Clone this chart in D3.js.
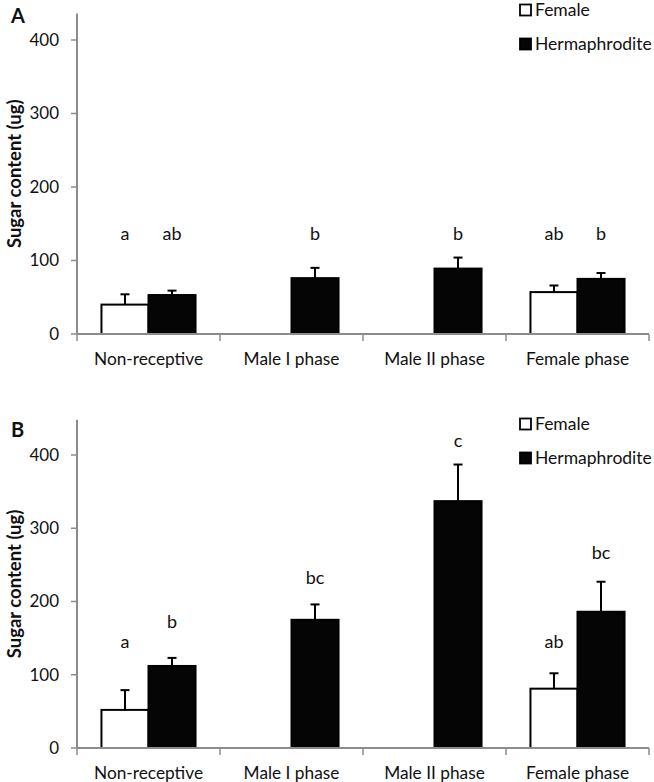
<!DOCTYPE html>
<html>
<head>
<meta charset="utf-8">
<script src="https://cdn.jsdelivr.net/npm/d3@7"></script>
<style>
html,body{margin:0;padding:0;background:#fff;}
svg{display:block;font-family:Lato,"Open Sans",sans-serif;}
</style>
</head>
<body>
<svg id="chart" width="654" height="782"></svg>
<script>
const categories = ["Non-receptive", "Male I phase", "Male II phase", "Female phase"];
const seriesNames = ["Female", "Hermaphrodite"];
const yTicks = [0, 100, 200, 300, 400];

// Panel A
const femaleA = [40, null, null, 57];
const femaleErrA = [14, null, null, 9];
const hermA = [53, 76, 89, 75];
const hermErrA = [6, 14, 15, 8];
const lettersFemaleA = ["a", null, null, "ab"];
const lettersHermA = ["ab", "b", "b", "b"];
const letterYFemaleA = [137, null, null, 137];
const letterYHermA = [137, 137, 137, 137];

// Panel B
const femaleB = [52, null, null, 81];
const femaleErrB = [27, null, null, 21];
const hermB = [112, 175, 337, 186];
const hermErrB = [11, 21, 50, 41];
const lettersFemaleB = ["a", null, null, "ab"];
const lettersHermB = ["b", "bc", "c", "bc"];
const letterYFemaleB = [145, null, null, 145];
const letterYHermB = [172, 233, 419, 267];

const svg = d3.select("#chart");
const axisColor = "#8c8c8c";

function panel(cfg) {
  const g = svg.append("g");
  const x = d3.scaleBand().domain(categories).range([77, 649]).paddingInner(0).paddingOuter(0);
  const y = d3.scaleLinear().domain([0, 400]).range([cfg.y0, cfg.y400]);
  const sub = d3.scaleBand().domain(seriesNames).range([0, x.bandwidth()]).paddingInner(0).paddingOuter(0.52);

  // y axis line
  g.append("line").attr("x1", 77).attr("x2", 77)
    .attr("y1", cfg.y0).attr("y2", y(cfg.yMax))
    .attr("stroke", axisColor).attr("stroke-width", 2);
  // y ticks
  const yt = g.selectAll(".yt").data(yTicks).enter().append("g");
  yt.append("line").attr("x1", 71).attr("x2", 77)
    .attr("y1", d => y(d)).attr("y2", d => y(d))
    .attr("stroke", axisColor).attr("stroke-width", 1.5);
  yt.append("text").attr("x", 59).attr("y", d => y(d)).attr("dy", "0.35em")
    .attr("text-anchor", "end").attr("font-size", 17).attr("fill", "#111").text(d => d);

  // bars
  const datasets = [
    {name: "Female", vals: cfg.female, errs: cfg.femaleErr, letters: cfg.lf, ly: cfg.lyf, fill: "#fff"},
    {name: "Hermaphrodite", vals: cfg.herm, errs: cfg.hermErr, letters: cfg.lh, ly: cfg.lyh, fill: "#050505"}
  ];
  datasets.forEach(ds => {
    categories.forEach((c, i) => {
      const v = ds.vals[i];
      if (v == null) return;
      const bx = x(c) + sub(ds.name);
      const bw = sub.bandwidth();
      const cx = bx + bw / 2;
      g.append("line").attr("x1", cx).attr("x2", cx)
        .attr("y1", y(v)).attr("y2", y(v + ds.errs[i]))
        .attr("stroke", "#000").attr("stroke-width", 2);
      g.append("line").attr("x1", cx - 4.5).attr("x2", cx + 4.5)
        .attr("y1", y(v + ds.errs[i])).attr("y2", y(v + ds.errs[i]))
        .attr("stroke", "#000").attr("stroke-width", 2);
      g.append("rect").attr("x", bx).attr("y", y(v)).attr("width", bw).attr("height", y(0) - y(v))
        .attr("fill", ds.fill).attr("stroke", "#000").attr("stroke-width", 2);
      if (ds.letters[i]) {
        g.append("text").attr("x", cx).attr("y", y(ds.ly[i])).attr("dy", "0.35em")
          .attr("text-anchor", "middle").attr("font-size", 18).attr("fill", "#111").text(ds.letters[i]);
      }
    });
  });

  // x axis
  g.append("line").attr("x1", 77).attr("x2", 649).attr("y1", cfg.y0).attr("y2", cfg.y0)
    .attr("stroke", axisColor).attr("stroke-width", 2);
  const ticksX = categories.map(c => x(c)).concat([x.range()[1]]);
  g.selectAll(".xt").data(ticksX).enter().append("line")
    .attr("x1", d => d).attr("x2", d => d).attr("y1", cfg.y0).attr("y2", cfg.y0 + 7)
    .attr("stroke", axisColor).attr("stroke-width", 1.5);
  g.selectAll(".xl").data(categories).enter().append("text")
    .attr("x", d => x(d) + x.bandwidth() / 2).attr("y", cfg.y0 + 25).attr("dy", "0.35em")
    .attr("text-anchor", "middle").attr("font-size", 17.3).attr("fill", "#111").text(d => d);

  // y title
  g.append("text").attr("transform", `translate(21,${(cfg.y0 + y(cfg.yMax)) / 2}) rotate(-90)`)
    .attr("text-anchor", "middle").attr("font-size", 18.5).attr("font-weight", "bold").attr("fill", "#111")
    .text("Sugar content (ug)");
  // panel letter
  g.append("text").attr("x", 11).attr("y", cfg.labelY).attr("font-size", 20).attr("font-weight", "bold")
    .attr("fill", "#111").text(cfg.label);

  // legend
  seriesNames.forEach((s, i) => {
    const ly = cfg.legY + i * 34;
    g.append("rect").attr("x", 520).attr("y", ly - 5.5).attr("width", 11).attr("height", 11)
      .attr("fill", i === 0 ? "#fff" : "#050505").attr("stroke", "#000").attr("stroke-width", 1.8);
    g.append("text").attr("x", 535).attr("y", ly).attr("dy", "0.35em").attr("font-size", 17.5)
      .attr("fill", "#111").text(s);
  });
}

panel({label: "A", labelY: 23, y0: 334, y400: 40, yMax: 436,
  female: femaleA, femaleErr: femaleErrA, herm: hermA, hermErr: hermErrA,
  lf: lettersFemaleA, lh: lettersHermA, lyf: letterYFemaleA, lyh: letterYHermA, legY: 10});
panel({label: "B", labelY: 437, y0: 748, y400: 455, yMax: 448,
  female: femaleB, femaleErr: femaleErrB, herm: hermB, hermErr: hermErrB,
  lf: lettersFemaleB, lh: lettersHermB, lyf: letterYFemaleB, lyh: letterYHermB, legY: 424});
</script>
</body>
</html>
